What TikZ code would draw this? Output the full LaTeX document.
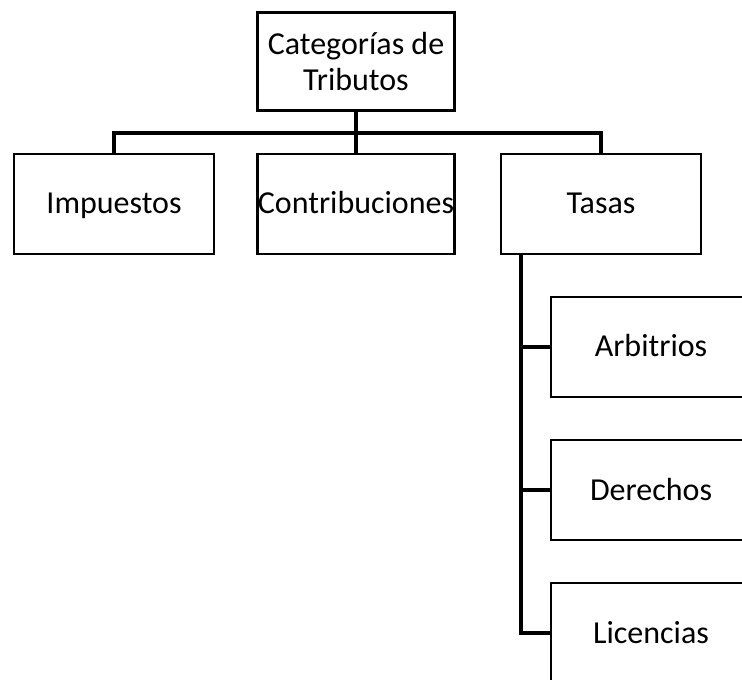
\documentclass[tikz,border=0pt]{standalone}
\usepackage{fontspec}
\setmainfont{Carlito}
\tikzset{
  catbox/.style={shape=rectangle,draw,line width=2.2pt,minimum width=150pt,minimum height=75pt,inner sep=0pt,align=center,font=\fontsize{24}{27}\selectfont},
  onebox/.style={catbox,text height=19pt,text depth=4pt},
  link/.style={line width=2.4pt}
}
\begin{document}
\begin{tikzpicture}[x=0.75pt,y=-0.75pt]
\useasboundingbox (0,0) rectangle (742,680);
\clip (0,0) rectangle (742,680);
\node[catbox,minimum width=148pt,minimum height=74pt](cat) at (356,61.5){Categorías de\\Tributos};
\node[onebox](imp) at (114,204){Impuestos};
\node[onebox,minimum width=148pt](con) at (356,204){Contribuciones};
\node[onebox](tas) at (601,204){Tasas};
\node[onebox](arb) at (651,347){Arbitrios};
\node[onebox](der) at (651,490){Derechos};
\node[onebox](lic) at (651,633){Licencias};
\coordinate (bar) at (356,133);
\coordinate (spine) at (521,254);
\draw[link] (cat.south) -- (con.north);
\draw[link] (imp.north) -- (imp.north |- bar) -- (tas.north |- bar) -- (tas.north);
\draw[link] (spine) |- (lic.west);
\draw[link] (spine |- arb.west) -- (arb.west);
\draw[link] (spine |- der.west) -- (der.west);
\end{tikzpicture}
\end{document}
